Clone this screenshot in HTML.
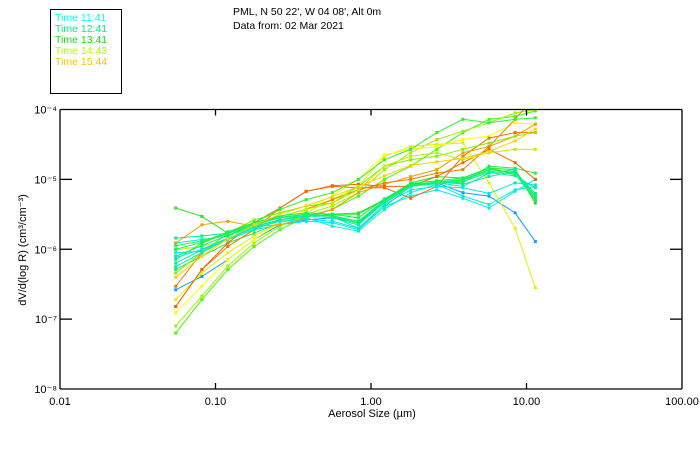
<!DOCTYPE html>
<html>
<head>
<meta charset="utf-8">
<style>
  html,body{margin:0;padding:0;background:#fff;}
  body{width:700px;height:450px;overflow:hidden;font-family:"Liberation Sans",sans-serif;}
  svg text{font-family:"Liberation Sans",sans-serif;font-size:11px;}
</style>
</head>
<body>
<svg id="chart" width="700" height="450" xmlns="http://www.w3.org/2000/svg">
  <rect x="50.5" y="9.5" width="71" height="84" fill="none" stroke="#000" stroke-width="1"/>
  <g style="font-size:10.5px">
    <text x="55" y="21" fill="#00ffff" style="font-size:10.5px">Time 11:41</text>
    <text x="55" y="32" fill="#00f080" style="font-size:10.5px">Time 12:41</text>
    <text x="55" y="43" fill="#10e010" style="font-size:10.5px">Time 13:41</text>
    <text x="55" y="54" fill="#b0ff00" style="font-size:10.5px">Time 14:43</text>
    <text x="55" y="65" fill="#ffc000" style="font-size:10.5px">Time 15:44</text>
  </g>
  <text x="233" y="15" fill="#000" style="font-size:10.5px">PML, N 50 22', W 04 08', Alt 0m</text>
  <text x="233" y="29" fill="#000" style="font-size:10.5px">Data from: 02 Mar 2021</text>
  <defs><clipPath id="pc"><rect x="60" y="109.5" width="622" height="280"/></clipPath></defs>
  <g id="series" clip-path="url(#pc)"></g>
  <g id="axes"></g>
  <text x="372" y="417" text-anchor="middle" fill="#000">Aerosol Size (µm)</text>
  <text transform="translate(26,250) rotate(-90)" text-anchor="middle" fill="#000">dV/d(log R) (cm³/cm⁻³)</text>
</svg>
<script>
// sizes (µm)
const sizes = [0.0555,0.0817,0.120,0.177,0.260,0.383,0.564,0.830,1.22,1.80,2.65,3.90,5.74,8.45,11.4];
const xTicks = [0.01,0.1,1,10,100];
const xTickLabels = ["0.01","0.10","1.00","10.00","100.00"];
const yTicks = [-4,-5,-6,-7,-8];
const yTickLabels = ["10⁻⁴","10⁻⁵","10⁻⁶","10⁻⁷","10⁻⁸"];
const colors = ["#10a0ff","#00e8f0","#00f0d0","#00f090","#20f040","#30e020","#40ff00","#a0f000","#e0f000","#ffff00","#f0a000","#f07000","#f08000","#f06800","#80f000","#c0f000","#30f030","#00f0b0","#00f070","#10f050","#00f0a0","#20f060","#00e8e0","#ffd000"];
// log10 of dV/dlogR (cm3/cm3)
const s1  = [-6.58,-6.39,-6.15,-5.86,-5.65,-5.58,-5.55,-5.62,-5.29,-5.10,-5.05,-5.19,-5.24,-5.48,-5.89];
const s2  = [-6.05,-6.03,-5.86,-5.72,-5.65,-5.60,-5.62,-5.72,-5.39,-5.24,-5.15,-5.27,-5.41,-5.17,-5.00];
const s3  = [-5.91,-5.86,-5.81,-5.67,-5.58,-5.55,-5.67,-5.74,-5.43,-5.19,-5.07,-5.24,-5.36,-5.15,-5.10];
const s4  = [-5.84,-5.81,-5.77,-5.62,-5.55,-5.50,-5.53,-5.62,-5.34,-5.10,-5.03,-5.07,-4.96,-4.88,-5.24];
const s5  = [-6.29,-6.10,-5.91,-5.77,-5.62,-5.53,-5.50,-5.50,-5.29,-5.07,-5.05,-5.05,-4.81,-4.84,-4.91];
const s6  = [-5.41,-5.53,-5.77,-5.67,-5.58,-5.53,-5.50,-5.48,-5.29,-5.05,-4.96,-4.98,-4.84,-4.86,-5.34];
const s7  = [-7.20,-6.72,-6.29,-5.96,-5.72,-5.53,-5.43,-5.24,-5.00,-4.81,-4.57,-4.33,-4.14,-4.10,-4.02];
const s8  = [-7.10,-6.67,-6.24,-5.91,-5.67,-5.50,-5.38,-5.19,-4.86,-4.62,-4.43,-4.31,-4.19,-4.05,-4.00];
const s9  = [-6.72,-6.34,-6.05,-5.81,-5.62,-5.48,-5.29,-5.10,-4.67,-4.53,-4.50,-4.48,-5.05,-5.70,-6.55];
const s10 = [-6.91,-6.53,-6.15,-5.86,-5.62,-5.43,-5.24,-5.00,-4.65,-4.57,-4.53,-4.43,-4.38,-4.19,-4.21];
const s11 = [-5.91,-5.65,-5.60,-5.67,-5.65,-5.55,-5.43,-5.19,-5.07,-4.96,-4.86,-4.62,-4.53,-4.38,-4.21];
const s12 = [-6.82,-6.29,-5.96,-5.72,-5.41,-5.17,-5.10,-5.12,-5.12,-5.27,-5.10,-4.67,-4.41,-4.33,-4.33];
const s13 = [-6.53,-6.05,-5.77,-5.62,-5.53,-5.43,-5.29,-5.15,-5.05,-5.00,-4.91,-4.86,-4.53,-4.14,-3.80];
const s14 = [-6.82,-6.29,-5.91,-5.62,-5.41,-5.17,-5.09,-5.07,-5.10,-5.10,-4.96,-4.76,-4.57,-4.76,-5.00];
const s15 = [-6.34,-6.05,-5.77,-5.58,-5.48,-5.38,-5.34,-5.10,-4.81,-4.72,-4.67,-4.57,-4.48,-4.38,-4.33];
const s16 = [-6.01,-5.96,-5.86,-5.67,-5.53,-5.43,-5.34,-5.15,-4.81,-4.67,-4.62,-4.72,-4.62,-4.57,-4.57];
const s17 = [-6.15,-5.91,-5.77,-5.62,-5.43,-5.29,-5.19,-5.00,-4.72,-4.57,-4.33,-4.14,-4.19,-4.14,-4.12];
const s18 = [-6.20,-6.01,-5.86,-5.72,-5.58,-5.50,-5.53,-5.70,-5.39,-5.10,-5.05,-5.10,-4.91,-4.86,-5.29];
const s19 = [-6.10,-5.95,-5.80,-5.65,-5.55,-5.50,-5.52,-5.60,-5.30,-5.08,-5.04,-5.00,-4.86,-4.90,-5.20];
const s20 = [-6.00,-5.90,-5.75,-5.62,-5.52,-5.48,-5.50,-5.55,-5.28,-5.06,-5.02,-4.98,-4.84,-4.92,-5.30];
const s21 = [-6.25,-6.05,-5.85,-5.68,-5.58,-5.52,-5.55,-5.65,-5.33,-5.10,-5.06,-5.03,-4.90,-4.95,-5.12];
const s22 = [-5.95,-5.88,-5.78,-5.64,-5.54,-5.50,-5.53,-5.63,-5.31,-5.09,-5.05,-5.01,-4.88,-4.93,-5.25];
const s23 = [-6.12,-6.00,-5.84,-5.70,-5.60,-5.57,-5.60,-5.70,-5.36,-5.15,-5.10,-5.12,-5.20,-5.05,-5.08];
const s24 = [-6.40,-6.10,-5.85,-5.65,-5.50,-5.38,-5.25,-5.10,-4.95,-4.80,-4.75,-4.70,-4.60,-4.45,-4.28];
const allSeries = [s1,s2,s3,s4,s5,s6,s7,s8,s9,s10,s11,s12,s13,s14,s15,s16,s17,s18,s19,s20,s21,s22,s23,s24];

const X0=60, X1=682, Y0=109.5, Y1=389;
function xScale(v){ return X0 + (Math.log10(v)+2)/4*(X1-X0); }
function yScale(e){ return Y0 + (-4 - e)/4*(Y1-Y0); }

const NS="http://www.w3.org/2000/svg";
const sg=document.getElementById('series');
allSeries.forEach((s,i)=>{
  const g=document.createElementNS(NS,'g');
  
  
  const pts=s.map((e,j)=>xScale(sizes[j]).toFixed(1)+','+yScale(e).toFixed(1)).join(' ');
  const pl=document.createElementNS(NS,'polyline');
  
  
  pl.setAttribute('points',pts);
  pl.setAttribute('fill','none');
  pl.setAttribute('stroke',colors[i]);
  pl.setAttribute('stroke-width','1');
  g.appendChild(pl);
  s.forEach((e,j)=>{
    const r=document.createElementNS(NS,'rect');
    
    
    r.setAttribute('x',xScale(sizes[j])-1.5);
    r.setAttribute('y',yScale(e)-1.5);
    r.setAttribute('width',3);r.setAttribute('height',3);
    r.setAttribute('fill',colors[i]);
    g.appendChild(r);
  });
  sg.appendChild(g);
});

const ax=document.getElementById('axes');
function line(x1,y1,x2,y2,name){
  const l=document.createElementNS(NS,'line');
  
  
  l.setAttribute('x1',x1);l.setAttribute('y1',y1);l.setAttribute('x2',x2);l.setAttribute('y2',y2);
  l.setAttribute('stroke','#000');l.setAttribute('stroke-width','1.3');
  ax.appendChild(l);
}
function text(x,y,s,anchor,name){
  const t=document.createElementNS(NS,'text');
  
  
  t.setAttribute('x',x);t.setAttribute('y',y);t.setAttribute('text-anchor',anchor);
  t.setAttribute('fill','#000');
  t.textContent=s;ax.appendChild(t);
}
line(X0,Y0,X1,Y0,'plot-frame-top');
line(X0,Y1,X1,Y1,'plot-frame-bottom');
line(X0,Y0,X0,Y1,'y-axis');
line(X1,Y0,X1,Y1,'plot-frame-right');
xTicks.forEach((v,i)=>{
  const x=xScale(v);
  if(i>0&&i<xTicks.length-1){
    line(x,Y1,x,Y1-6,'x-tick');
    line(x,Y0,x,Y0+6,'x-tick-top');
  }
  text(x,405,xTickLabels[i],'middle','x-tick-label');
});
yTicks.forEach((e,i)=>{
  const y=yScale(e);
  if(i>0&&i<yTicks.length-1){
    line(X0,y,X0+12,y,'y-tick');
    line(X1,y,X1-12,y,'y-tick-right');
  }
  text(57,y+4,yTickLabels[i],'end','y-tick-label');
});
</script>
</body>
</html>
